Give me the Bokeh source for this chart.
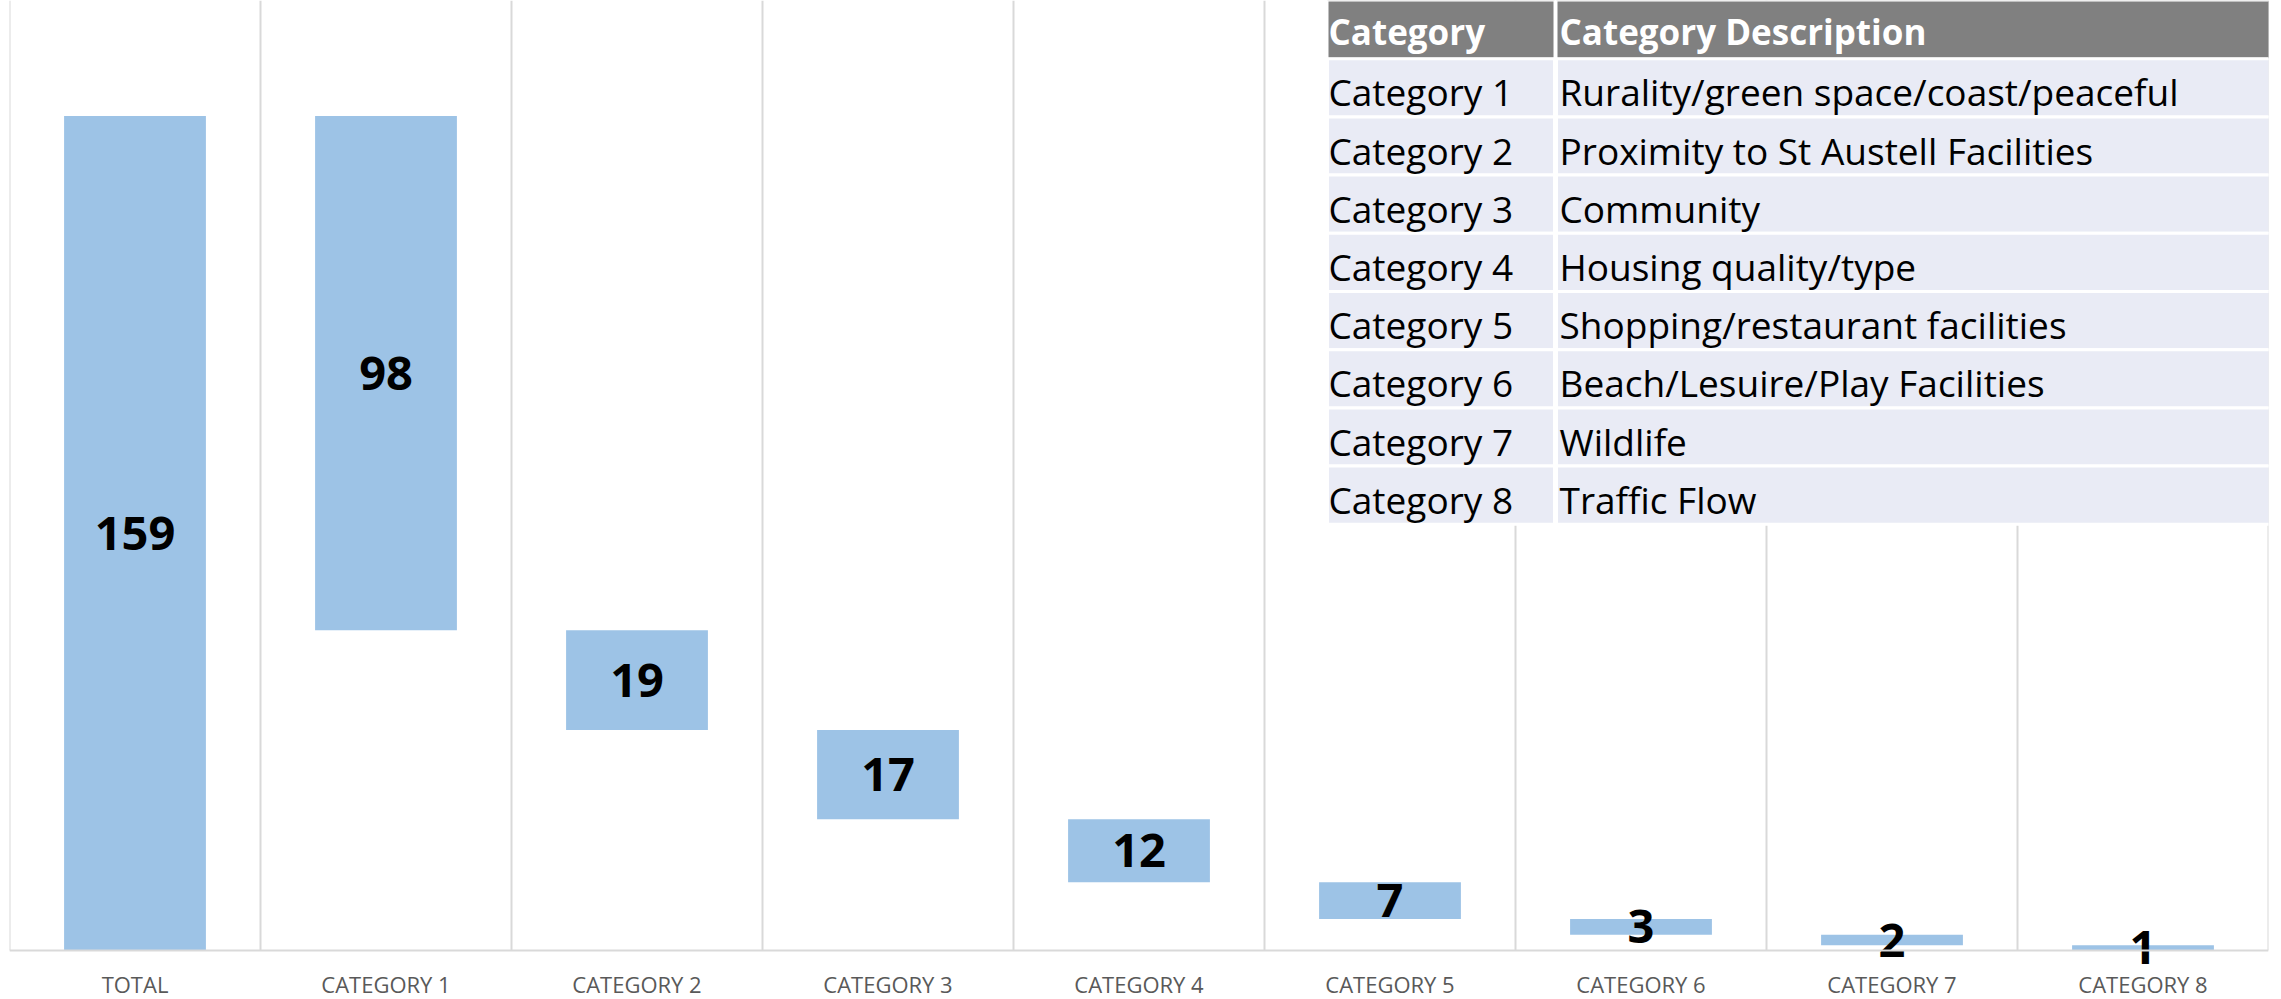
from bokeh.plotting import figure
from bokeh.models import ColumnDataSource, Range1d, Span
from bokeh.core.properties import value
from bokeh.embed import file_html
from bokeh.resources import INLINE

# ---- data ----
categories = ["TOTAL", "CATEGORY 1", "CATEGORY 2", "CATEGORY 3", "CATEGORY 4",
              "CATEGORY 5", "CATEGORY 6", "CATEGORY 7", "CATEGORY 8"]
values = [159, 98, 19, 17, 12, 7, 3, 2, 1]

table_headers = ["Category", "Category Description"]
table_categories = ["Category 1", "Category 2", "Category 3", "Category 4",
                    "Category 5", "Category 6", "Category 7", "Category 8"]
table_descriptions = ["Rurality/green space/coast/peaceful",
                      "Proximity to St Austell Facilities",
                      "Community",
                      "Housing quality/type",
                      "Shopping/restaurant facilities",
                      "Beach/Lesuire/Play Facilities",
                      "Wildlife",
                      "Traffic Flow"]

# ---- waterfall geometry from values ----
tops, bottoms = [values[0]], [0]
running = values[0]
for v in values[1:]:
    tops.append(running)
    running -= v
    bottoms.append(running)
mids = [(t + b) / 2 for t, b in zip(tops, bottoms)]
pos = list(range(len(categories)))

# ---- layout (pixels) ----
W, H = 2281, 999
BL, BR = 9, 13
FW, FH = W - BL - BR, H
Y_MAX = 181
AXIS_PX = 950            # pixel row of the zero line
ppu = AXIS_PX / Y_MAX    # pixels per unit
Y_MIN = -(FH - AXIS_PX) / ppu
LABEL_Y = -33 / ppu      # category names below the zero line

src = ColumnDataSource(dict(x=pos, cat=categories, top=tops, bottom=bottoms, mid=mids,
                            cat_y=[LABEL_Y] * len(pos), label=[str(v) for v in values]))

p = figure(width=W, height=H, x_range=Range1d(-0.5, len(categories) - 0.5),
           y_range=Range1d(Y_MIN, Y_MAX),
           output_backend="svg", toolbar_location=None,
           x_axis_location=None, y_axis_location=None,
           min_border_left=BL, min_border_right=BR, min_border_top=0, min_border_bottom=0)
p.outline_line_color = None
p.xgrid.visible = False
p.ygrid.visible = False
p.background_fill_color = "white"
p.border_fill_color = "white"

# vertical gridlines at category boundaries
bounds = [i - 0.5 for i in range(len(categories) + 1)]
p.segment(x0=bounds, x1=bounds, y0=[0] * len(bounds), y1=[Y_MAX] * len(bounds),
          line_color="#D9D9D9", line_width=2)
# axis line
p.add_layout(Span(location=0, dimension="width", line_color="#D9D9D9", line_width=2))

# bars
p.vbar(x="x", top="top", bottom="bottom", width=0.565, source=src,
       fill_color="#9DC3E6", line_color=None)

# category names
p.text(x="x", y="cat_y", text="cat", source=src, text_align="center",
       text_baseline="middle", text_font=value("Open Sans"), text_font_size="22px",
       text_color="#595959")

# value labels
p.text(x="x", y="mid", text="label", source=src, text_align="center",
       text_baseline="middle", text_font=value("Open Sans"), text_font_style="bold",
       text_font_size="47px", text_color="black")

# ---- table overlay (pixel coordinates inside the frame, y downward) ----
p.extra_x_ranges = {"tx": Range1d(0, FW)}
p.extra_y_ranges = {"ty": Range1d(FH, 0)}
c0_l, c0_r, c1_l, c1_r = 1318, 1545, 1547, FW + 6
RH = 58.2
n = len(table_categories)
hdr = ColumnDataSource(dict(left=[c0_l, c1_l], right=[c0_r, c1_r], top=[0, 0], bottom=[RH, RH]))
p.quad(left="left", right="right", top="top", bottom="bottom", source=hdr,
       fill_color="#808080", line_color="white", line_width=2,
       x_range_name="tx", y_range_name="ty")
rows_l, rows_r, rows_t, rows_b = [], [], [], []
for i in range(n):
    t = RH * (i + 1)
    for l, r in ((c0_l, c0_r), (c1_l, c1_r)):
        rows_l.append(l); rows_r.append(r); rows_t.append(t); rows_b.append(t + RH)
p.quad(left=rows_l, right=rows_r, top=rows_t, bottom=rows_b,
       fill_color="#E9EBF5", line_color="white", line_width=3,
       x_range_name="tx", y_range_name="ty")

p.text(x=[c0_l + 1, c1_l + 3], y=[RH / 2 + 2] * 2, text=table_headers,
       text_baseline="middle", text_font=value("Open Sans"), text_font_style="bold",
       text_font_size="35px", text_color="white", x_range_name="tx", y_range_name="ty")
ys = [RH * (i + 1) + RH / 2 + 4 for i in range(n)]
p.text(x=[c0_l + 1] * n, y=ys, text=table_categories, text_baseline="middle",
       text_font=value("Open Sans"), text_font_size="37px", text_color="black",
       x_range_name="tx", y_range_name="ty")
p.text(x=[c1_l + 3] * n, y=ys, text=table_descriptions, text_baseline="middle",
       text_font=value("Open Sans"), text_font_size="37px", text_color="black",
       x_range_name="tx", y_range_name="ty")

open("out.html", "w").write(file_html(p, INLINE))
